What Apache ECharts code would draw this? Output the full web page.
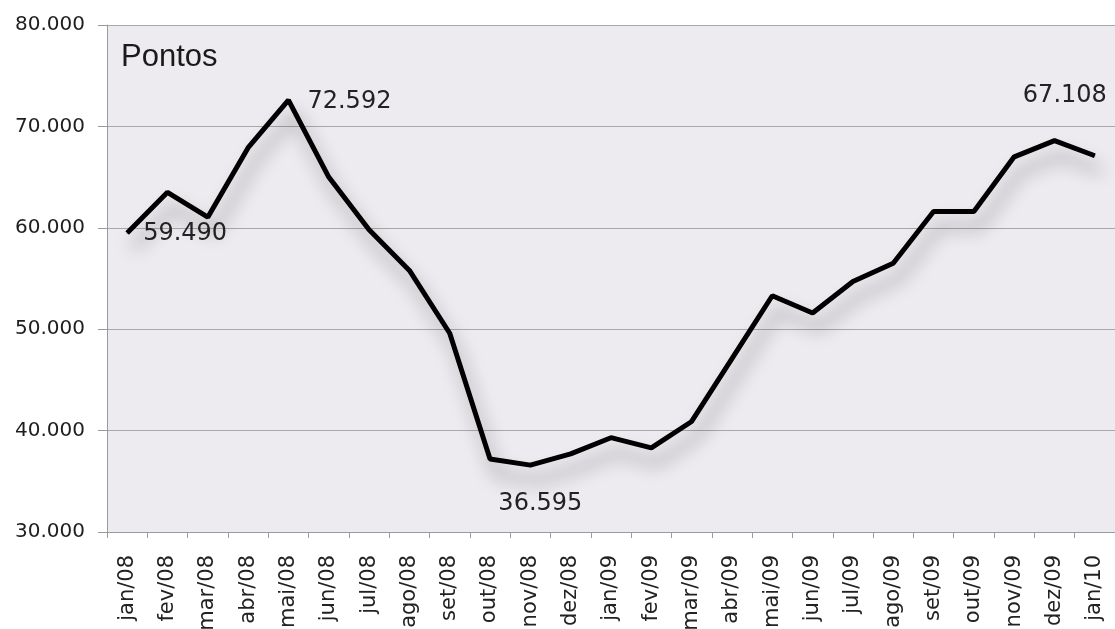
<!DOCTYPE html>
<html>
<head>
<meta charset="utf-8">
<script src="https://cdn.jsdelivr.net/npm/echarts@6/dist/echarts.min.js"></script>
<style>
  html, body { margin: 0; padding: 0; background: #ffffff; }
  #chart { width: 1115px; height: 629px; }
</style>
</head>
<body>
<div id="chart"></div>
<script>
// Monthly index points, jan/2008 – jan/2010
const months = [
  'jan/08', 'fev/08', 'mar/08', 'abr/08', 'mai/08', 'jun/08', 'jul/08', 'ago/08', 'set/08',
  'out/08', 'nov/08', 'dez/08', 'jan/09', 'fev/09', 'mar/09', 'abr/09', 'mai/09', 'jun/09',
  'jul/09', 'ago/09', 'set/09', 'out/09', 'nov/09', 'dez/09', 'jan/10'
];
const points = [
  59490, 63500, 61050, 67900, 72592, 65000, 59800, 55800, 49600,
  37200, 36595, 37700, 39300, 38300, 40900, 47100, 53300, 51600,
  54700, 56500, 61600, 61600, 67000, 68600, 67108
];
const yTicks = [30000, 40000, 50000, 60000, 70000, 80000];

// Months whose value is written next to the line, with the label offset from the point
const labelled = [
  { index: 0, offset: [16, 1] },
  { index: 4, offset: [19, 2] },
  { index: 10, offset: [-32, 39] },
  { index: 24, offset: [-72, -60] }
];

function fmt(v) {
  return String(Math.round(v)).replace(/\B(?=(\d{3})+(?!\d))/g, '.');
}

const seriesData = points.map(function (v, i) {
  const item = { value: v };
  const lab = labelled.find(function (l) { return l.index === i; });
  if (lab) {
    item.label = {
      show: true,
      position: 'inside',
      align: 'left',
      verticalAlign: 'middle',
      offset: lab.offset,
      formatter: function (p) { return fmt(p.value); },
      fontFamily: 'DejaVu Sans',
      fontSize: 24,
      color: '#222222'
    };
  }
  return item;
});

const chart = echarts.init(document.getElementById('chart'), null, { renderer: 'canvas' });

chart.setOption({
  animation: false,
  backgroundColor: '#ffffff',
  grid: {
    left: 107,
    right: 0,
    top: 25,
    bottom: 97,
    containLabel: false,
    outerBoundsMode: 'none',
    show: true,
    backgroundColor: '#eeebf0',
    borderWidth: 0
  },
  graphic: [{
    type: 'text',
    left: 121,
    top: 42,
    style: {
      text: 'Pontos',
      fontFamily: 'Liberation Sans',
      fontSize: 31,
      fill: '#1a1a1a'
    }
  }],
  xAxis: {
    type: 'category',
    data: months,
    boundaryGap: true,
    axisLine: { show: true, lineStyle: { color: '#9a9a9a', width: 1 } },
    axisTick: { show: true, interval: 0, length: 6, lineStyle: { color: '#9a9a9a' } },
    axisLabel: {
      interval: 0,
      rotate: 90,
      margin: 23,
      fontFamily: 'DejaVu Sans',
      fontSize: 21,
      color: '#222222'
    },
    splitLine: { show: false }
  },
  yAxis: {
    type: 'value',
    min: yTicks[0],
    max: yTicks[yTicks.length - 1],
    interval: 10000,
    axisLine: { show: true, lineStyle: { color: '#9a9a9a', width: 1 } },
    axisTick: { show: true, length: 9, lineStyle: { color: '#9a9a9a' } },
    axisLabel: {
      margin: 22,
      fontFamily: 'DejaVu Sans',
      fontSize: 20,
      color: '#1e1e1e',
      formatter: function (v) { return fmt(v); }
    },
    splitLine: { show: true, lineStyle: { color: '#a8a8a8', width: 1 } }
  },
  series: [{
    type: 'line',
    data: seriesData,
    showSymbol: true,
    symbol: 'circle',
    symbolSize: 1,
    itemStyle: { color: '#000000' },
    lineStyle: {
      color: '#000000',
      width: 5,
      shadowColor: 'rgba(0,0,0,0.38)',
      shadowBlur: 18,
      shadowOffsetX: 6,
      shadowOffsetY: 15
    },
    emphasis: { disabled: true },
    silent: true,
    z: 3
  }]
});
</script>
</body>
</html>
